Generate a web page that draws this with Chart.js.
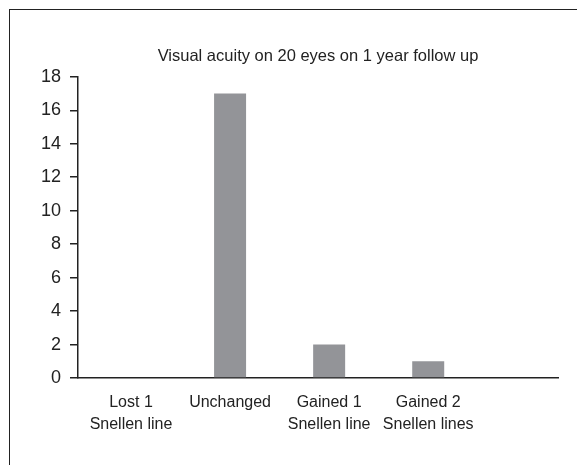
<!DOCTYPE html>
<html>
<head>
<meta charset="utf-8">
<script src="https://cdn.jsdelivr.net/npm/chart.js@4"></script>
<style>
  body { margin: 0; width: 577px; height: 465px; overflow: hidden; background: #fff; position: relative; }
  #frame { position: absolute; left: 9px; top: 9px; width: 700px; height: 600px;
           border-left: 1.5px solid #222; border-top: 1.5px solid #222; }
  #acuityChart { position: absolute; left: 0; top: 0; }
</style>
</head>
<body>
<div id="frame"></div>
<canvas id="acuityChart" width="652" height="465"></canvas>
<script>
const categories = [
  ["Lost 1", "Snellen line"],
  ["Unchanged"],
  ["Gained 1", "Snellen line"],
  ["Gained 2", "Snellen lines"],
];
const eyeCounts = [0, 17, 2, 1];
const yMax = 18;
const yStep = 2;

const FONT = '"Liberation Sans Narrow", "Arial Narrow", "Liberation Sans", Arial, sans-serif';
const INK = "#222222";

const ctx = document.getElementById("acuityChart").getContext("2d");

new Chart(ctx, {
  type: "bar",
  data: {
    datasets: [
      {
        label: "Eyes",
        data: eyeCounts.map((v, i) => ({ x: i, y: v })),
        backgroundColor: "#939498",
        borderWidth: 0,
        barPercentage: 1,
        categoryPercentage: 0.323,
      },
    ],
  },
  options: {
    responsive: false,
    animation: false,
    devicePixelRatio: 1,
    layout: { padding: { left: 0, right: 94, top: 0, bottom: 0 } },
    plugins: {
      legend: { display: false },
      tooltip: { enabled: false },
      title: {
        display: true,
        fullSize: false,
        text: "Visual acuity on 20 eyes on 1 year follow up",
        color: INK,
        font: { family: FONT, size: 16.5, weight: "normal", lineHeight: 1.2 },
        padding: { top: 47, bottom: 10 },
      },
    },
    scales: {
      x: {
        type: "linear",
        offset: false,
        min: -0.535,
        max: 4.31,
        afterBuildTicks: (scale) => {
          scale.ticks = categories.map((c, i) => ({ value: i }));
        },
        afterFit: (scale) => {
          scale.height = 87;
        },
        ticks: {
          color: INK,
          font: { family: FONT, size: 16, lineHeight: 1.35 },
          padding: 14,
          maxRotation: 0,
          autoSkip: false,
          callback: (value) => categories[value],
        },
        grid: { display: true, offset: false, drawOnChartArea: false, drawTicks: false },
        border: { display: true, color: INK, width: 1.5 },
      },
      y: {
        min: 0,
        max: yMax,
        afterFit: (scale) => {
          scale.width = 78;
        },
        ticks: {
          stepSize: yStep,
          color: INK,
          font: { family: FONT, size: 18 },
          padding: 9,
        },
        grid: { drawOnChartArea: false, drawTicks: true, tickLength: 8, color: INK, lineWidth: 1.5 },
        border: { display: true, color: INK, width: 1.5 },
      },
    },
  },
});
</script>
</body>
</html>
